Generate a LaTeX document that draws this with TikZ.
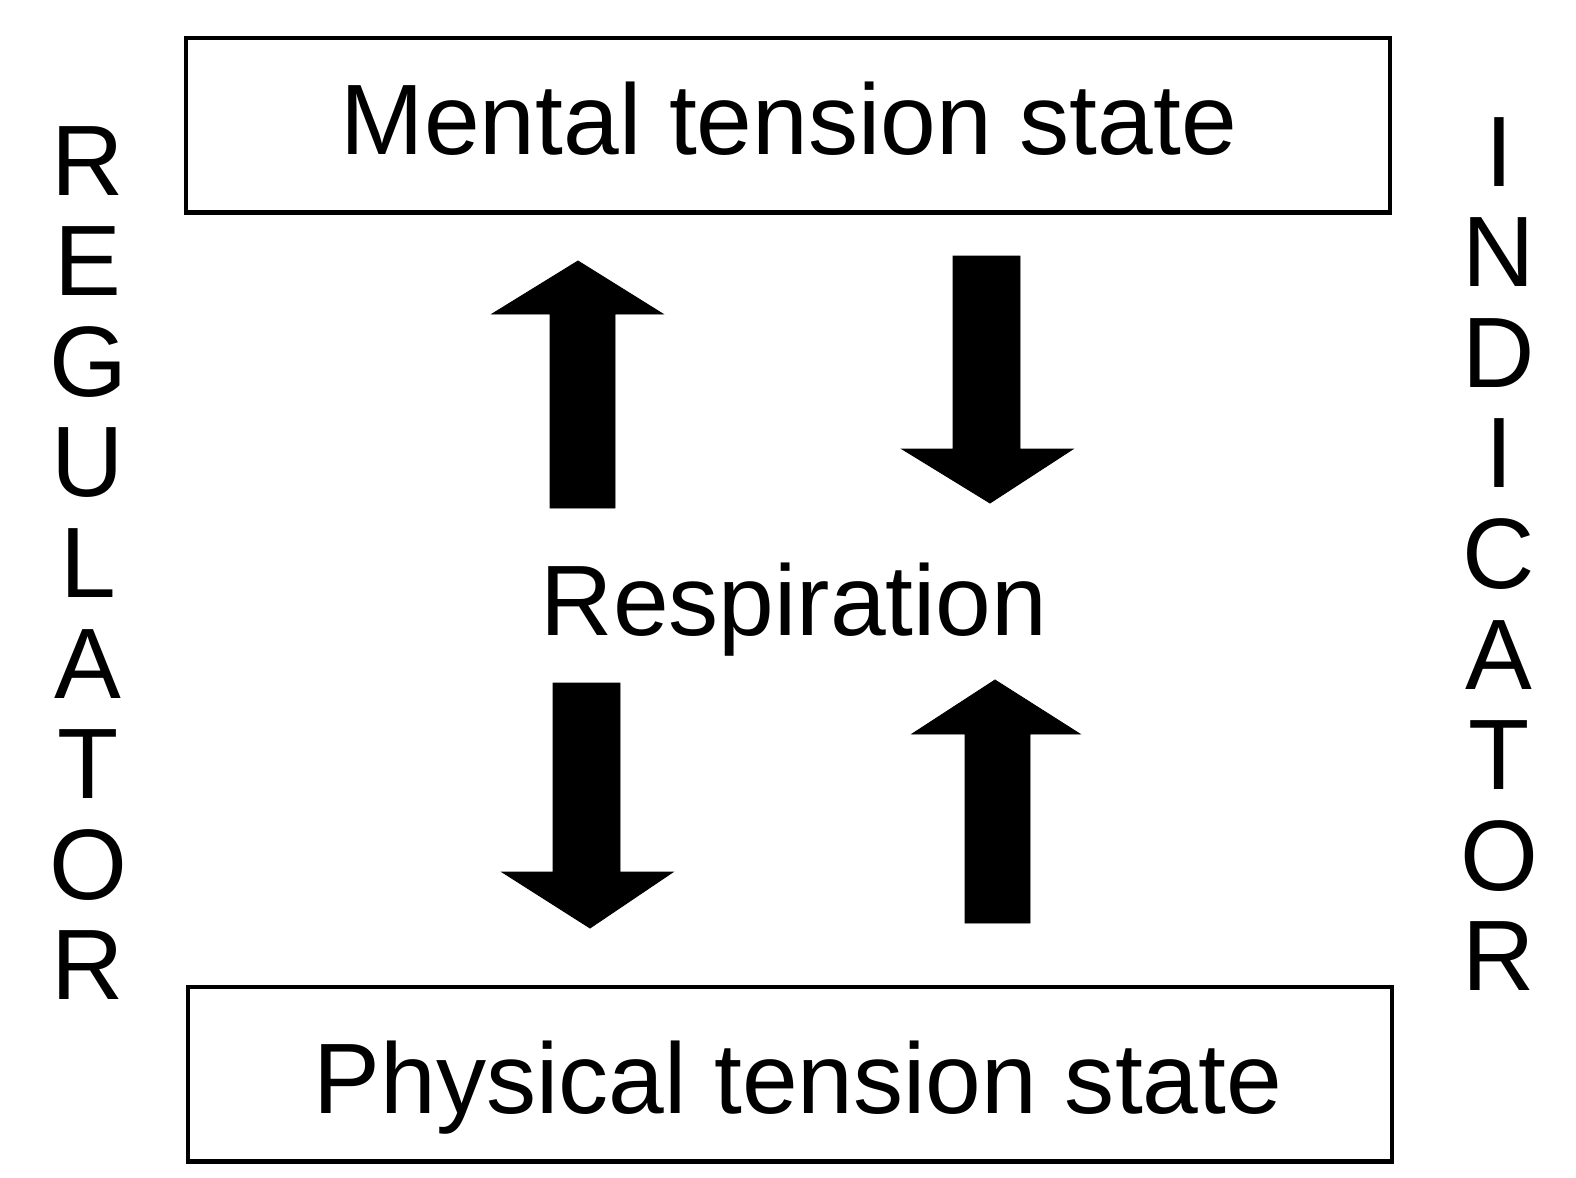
\documentclass[tikz,border=0pt]{standalone}
\usepackage{fontspec}
\setmainfont{Liberation Sans}
\usetikzlibrary{positioning}
\tikzset{
    %Define style for the two state boxes
    statebox/.style={
           rectangle,
           draw=black, line width=2.3pt,
           minimum width=24.1cm,
           minimum height=3.5cm,
           },
    %Define style for plain labels
    lbl/.style={
           anchor=base,
           inner sep=0pt,
           font=\fontsize{57}{62}\selectfont,
           },
    % Define style for block arrows
    blk/.style={
           fill=black,
           draw=black,
           line width=0.5pt,},
}

\begin{document}
\begin{tikzpicture}[x=0.02cm,y=-0.02cm]
\useasboundingbox (0,0) rectangle (1576,1177);
\node[statebox](mental) at (788,125){};
\node[statebox](physical) at (790,1074){};
\node[lbl](mentaltxt) at (789,154){Mental tension state};
\node[lbl](physicaltxt) at (798,1113){Physical tension state};
\node[lbl](resp) at (794,635){Respiration};
% side words, one letter under the other
\foreach \l [count=\i] in {R,E,G,U,L,A,T,O,R}
    \node[lbl](reg\i) at (88,{195+(\i-1)*100.6}){\l};
\foreach \l [count=\i] in {I,N,D,I,C,A,T,O,R}
    \node[lbl](ind\i) at (1499,{186+(\i-1)*100.6}){\l};
% block arrows
\fill[blk] (550,508) -- (550,314) -- (492,314) -- (578,261) -- (663,314) -- (615,314) -- (615,508) -- cycle;
\fill[blk] (953,256) -- (953,449) -- (902,449) -- (990,503) -- (1073,449) -- (1020,449) -- (1020,256) -- cycle;
\fill[blk] (553,683) -- (553,872) -- (502,872) -- (590,928) -- (673,872) -- (620,872) -- (620,683) -- cycle;
\fill[blk] (965,923) -- (965,734) -- (912,734) -- (995,680) -- (1080,734) -- (1030,734) -- (1030,923) -- cycle;
\end{tikzpicture}
\end{document}
